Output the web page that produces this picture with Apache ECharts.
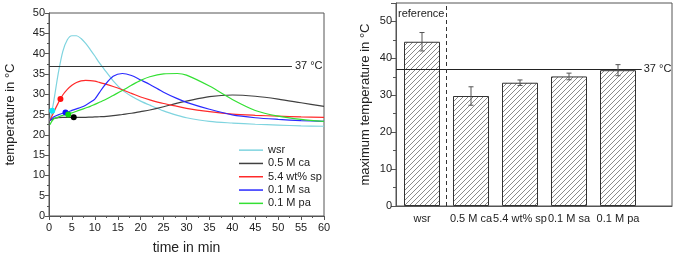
<!DOCTYPE html>
<html>
<head>
<meta charset="utf-8">
<script src="https://cdn.jsdelivr.net/npm/echarts@6/dist/echarts.min.js"></script>
<style>
  html, body { margin: 0; padding: 0; background: #fff; }
  #chart { width: 675px; height: 255px; }
</style>
</head>
<body>
<div id="chart"></div>
<script>
// left panel: temperature over time
const timeMin = [0.2, 1, 2, 3, 4, 5, 6, 7, 8, 9, 10, 11, 12, 14, 16, 18, 20, 22, 25, 28, 30, 35, 40, 45, 50, 55, 60]
const wsrTemp = [23.5, 28.0, 35.0, 40.5, 43.4, 44.4, 44.4, 43.7, 42.5, 41.0, 39.4, 37.7, 36.2, 33.3, 31.0, 29.5, 28.3, 27.3, 25.9, 24.8, 24.2, 23.3, 22.9, 22.6, 22.4, 22.2, 22.1]
const caTemp = [23.5, 24.0, 24.2, 24.3, 24.3, 24.3, 24.3, 24.3, 24.3, 24.35, 24.4, 24.45, 24.5, 24.7, 25.0, 25.3, 25.7, 26.1, 26.9, 27.8, 28.3, 29.4, 29.8, 29.5, 28.8, 27.9, 27.0]
const spTemp = [23.5, 25.5, 27.8, 29.8, 31.2, 32.2, 32.9, 33.3, 33.4, 33.35, 33.2, 32.9, 32.6, 31.9, 31.1, 30.2, 29.3, 28.6, 27.7, 27.0, 26.5, 25.7, 25.1, 24.8, 24.6, 24.4, 24.3]
const saTemp = [23.5, 24.4, 24.9, 25.3, 25.6, 26.0, 26.4, 26.8, 27.3, 28.0, 28.8, 30.4, 32.0, 34.4, 35.1, 34.6, 33.5, 32.4, 30.5, 28.9, 28.0, 26.3, 24.9, 24.2, 23.8, 23.5, 23.3]
const paTemp = [22.5, 23.9, 24.4, 24.8, 25.1, 25.4, 25.8, 26.2, 26.6, 27.0, 27.5, 28.0, 28.5, 29.7, 30.9, 32.2, 33.4, 34.3, 35.0, 35.1, 34.7, 32.0, 28.7, 26.0, 24.6, 23.8, 23.3]
const seriesNames = ['wsr', '0.5 M ca', '5.4 wt% sp', '0.1 M sa', '0.1 M pa']
const lineColors = ['#7fd4df', '#404040', '#ff2a2a', '#2a2aff', '#33e033']
// start points marked with dots
const onsetTime = [0.7, 2.5, 3.6, 4.2, 5.4]
const onsetTemp = [25.9, 28.8, 25.5, 25.0, 24.3]
const dotColors = ['#10e8f8', '#ff1010', '#1010ff', '#10d810', '#000000']

// right panel: maximum temperature
const samples = ['wsr', '0.5 M ca', '5.4 wt% sp', '0.1 M sa', '0.1 M pa']
const maxTemp = [44.5, 29.8, 33.4, 35.1, 36.8]
const maxTempErr = [2.5, 2.5, 0.75, 0.9, 1.5]

const limitTemp = 37
const axisColor = '#555'
const textColor = '#222'
const font = 'Liberation Sans, Arial, sans-serif'

function hatch() {
  const size = 5
  const c = document.createElement('canvas')
  c.width = size
  c.height = size
  const ctx = c.getContext('2d')
  ctx.fillStyle = '#fff'
  ctx.fillRect(0, 0, size, size)
  ctx.strokeStyle = '#8a8a8a'
  ctx.lineWidth = 1
  ctx.beginPath()
  ctx.moveTo(-1, size + 1)
  ctx.lineTo(size + 1, -1)
  ctx.moveTo(-1, 1)
  ctx.lineTo(1, -1)
  ctx.moveTo(size - 1, size + 1)
  ctx.lineTo(size + 1, size - 1)
  ctx.stroke()
  return c
}

const barXMin = 1 - 26 / 49
const barXMax = barXMin + 276 / 49

const lineSeries = seriesNames.map((name, k) => {
  const vals = [wsrTemp, caTemp, spTemp, saTemp, paTemp][k]
  const s = {
    name: name,
    type: 'line',
    xAxisIndex: 0,
    yAxisIndex: 0,
    smooth: 0.3,
    symbol: 'none',
    color: lineColors[k],
    lineStyle: { width: 1.2, color: lineColors[k] },
    data: timeMin.map((t, i) => [t, vals[i]])
  }
  if (k === 0) {
    s.markLine = {
      symbol: 'none',
      silent: true,
      lineStyle: { color: '#333', width: 1.2, type: 'solid' },
      label: {
        position: 'end',
        distance: 3,
        formatter: '37 °C',
        fontSize: 11,
        fontFamily: font,
        color: textColor
      },
      data: [[{ coord: [0, limitTemp] }, { coord: [53, limitTemp] }]]
    }
  }
  return s
})

const chart = echarts.init(document.getElementById('chart'))
chart.setOption({
  animation: false,
  textStyle: { fontFamily: font },
  grid: [
    { left: 49, right: 351, top: 13, bottom: 39, show: true, borderColor: axisColor, borderWidth: 1, outerBoundsMode: 'none' },
    { left: 396, right: 3, top: 3, bottom: 49, show: true, borderColor: axisColor, borderWidth: 1, outerBoundsMode: 'none' },
    { left: 397.5, width: 245, top: 3, bottom: 49, outerBoundsMode: 'none' }
  ],
  legend: {
    data: seriesNames,
    orient: 'vertical',
    left: 234,
    top: 138.5,
    icon: 'rect',
    itemWidth: 24,
    itemHeight: 1.5,
    itemGap: 0,
    textStyle: { fontSize: 11, lineHeight: 13.3, color: textColor, fontFamily: font }
  },
  xAxis: [
    {
      gridIndex: 0,
      type: 'value',
      min: 0,
      max: 60,
      interval: 5,
      name: 'time in min',
      nameLocation: 'middle',
      nameGap: 25,
      nameTextStyle: { fontSize: 14, color: textColor },
      axisLine: { lineStyle: { color: axisColor } },
      axisTick: { length: 4, lineStyle: { color: axisColor } },
      minorTick: { show: true, splitNumber: 2, length: 2, lineStyle: { color: axisColor } },
      axisLabel: { fontSize: 11, color: textColor, margin: 6 },
      splitLine: { show: false }
    },
    {
      gridIndex: 1,
      type: 'value',
      min: barXMin,
      max: barXMax,
      axisLine: { lineStyle: { color: axisColor } },
      axisTick: { show: false },
      axisLabel: { show: false },
      splitLine: { show: false }
    },
    {
      gridIndex: 2,
      type: 'category',
      data: samples,
      axisLine: { show: false },
      axisTick: { show: false },
      axisLabel: { fontSize: 11, color: textColor, margin: 7, interval: 0 }
    }
  ],
  yAxis: [
    {
      gridIndex: 0,
      type: 'value',
      min: 0,
      max: 50,
      interval: 5,
      name: 'temperature in °C',
      nameLocation: 'middle',
      nameGap: 32,
      nameTextStyle: { fontSize: 13, color: textColor },
      axisLine: { show: true, lineStyle: { color: axisColor } },
      axisTick: { show: true, length: 4, lineStyle: { color: axisColor } },
      minorTick: { show: true, splitNumber: 2, length: 2, lineStyle: { color: axisColor } },
      axisLabel: { fontSize: 11, color: textColor, margin: 4 },
      splitLine: { show: false }
    },
    {
      gridIndex: 1,
      type: 'value',
      min: 0,
      max: 55,
      interval: 10,
      name: 'maximum temperature in °C',
      nameLocation: 'middle',
      nameGap: 24,
      nameTextStyle: { fontSize: 13, color: textColor },
      axisLine: { show: true, lineStyle: { color: axisColor } },
      axisTick: { show: true, length: 5, lineStyle: { color: axisColor } },
      minorTick: { show: true, splitNumber: 2, length: 3, lineStyle: { color: axisColor } },
      axisLabel: { fontSize: 11, color: textColor, margin: 4, showMaxLabel: false },
      splitLine: { show: false }
    },
    {
      gridIndex: 2,
      type: 'value',
      min: 0,
      max: 55,
      show: false
    }
  ],
  series: [
    ...lineSeries,
    {
      type: 'scatter',
      xAxisIndex: 0,
      yAxisIndex: 0,
      symbolSize: 6,
      itemStyle: { color: (p) => dotColors[p.dataIndex], opacity: 1 },
      data: onsetTime.map((t, i) => [t, onsetTemp[i]]),
      z: 5
    },
    {
      type: 'bar',
      xAxisIndex: 1,
      yAxisIndex: 1,
      barWidth: 36,
      itemStyle: {
        color: { image: hatch(), repeat: 'repeat' },
        borderColor: '#333',
        borderWidth: 1
      },
      data: maxTemp.map((v, i) => [i + 1, v]),
      markLine: {
        symbol: 'none',
        silent: true,
        data: [
          [
            { coord: [barXMin, limitTemp], lineStyle: { color: '#222', width: 1.2, type: 'solid' },
              label: { show: true, position: 'end', distance: 2, formatter: '37 °C', fontSize: 11, color: textColor } },
            { coord: [5.484, limitTemp] }
          ],
          { xAxis: 1.5, lineStyle: { color: '#333', width: 1, type: [4, 3] }, label: { show: false } }
        ]
      },
      markArea: {
        silent: true,
        itemStyle: { color: 'rgba(0,0,0,0)' },
        label: { show: true, position: 'insideTop', distance: 5, fontSize: 11, color: textColor },
        data: [[{ name: 'reference', xAxis: barXMin, yAxis: 55 }, { xAxis: 1.5, yAxis: 0 }]]
      }
    },
    {
      type: 'custom',
      xAxisIndex: 1,
      yAxisIndex: 1,
      z: 10,
      data: maxTemp.map((v, i) => [i + 1, v - maxTempErr[i], v + maxTempErr[i]]),
      renderItem: (params, api) => {
        const lo = api.coord([api.value(0), api.value(1)])
        const hi = api.coord([api.value(0), api.value(2)])
        const w = 2.5
        const style = { stroke: '#555', lineWidth: 1 }
        return {
          type: 'group',
          children: [
            { type: 'line', shape: { x1: hi[0], y1: hi[1], x2: lo[0], y2: lo[1] }, style },
            { type: 'line', shape: { x1: hi[0] - w, y1: hi[1], x2: hi[0] + w, y2: hi[1] }, style },
            { type: 'line', shape: { x1: lo[0] - w, y1: lo[1], x2: lo[0] + w, y2: lo[1] }, style }
          ]
        }
      }
    }
  ]
})
</script>
</body>
</html>
